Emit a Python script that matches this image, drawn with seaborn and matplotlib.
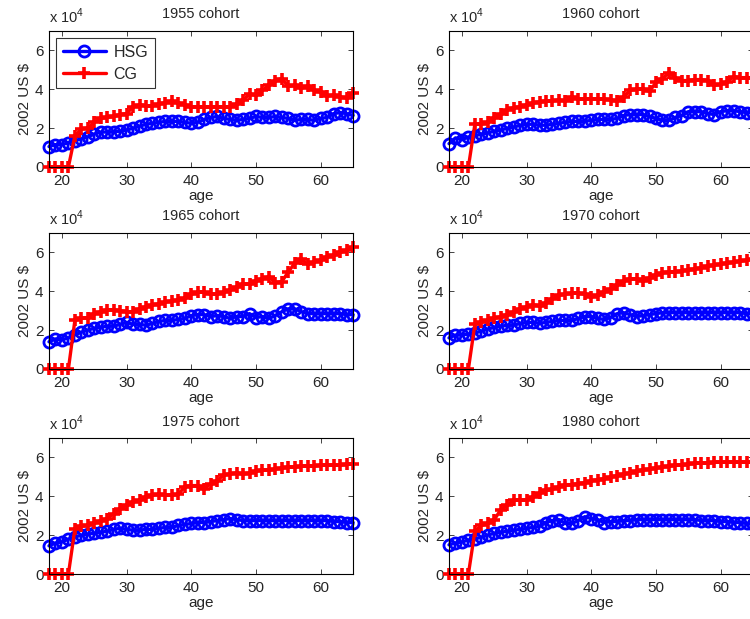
import numpy as np
import pandas as pd
import matplotlib
matplotlib.use("Agg")
import matplotlib.pyplot as plt
import seaborn as sns

sns.set_style("ticks")
plt.rcParams['font.family'] = ['Liberation Sans', 'DejaVu Sans']
plt.rcParams['mathtext.fontset'] = 'custom'
plt.rcParams['mathtext.rm'] = 'Liberation Sans'
plt.rcParams['xtick.direction'] = 'in'
plt.rcParams['ytick.direction'] = 'in'

ages = list(range(18, 66))
cohorts = ["1955", "1960", "1965", "1970", "1975", "1980"]

# earnings in units of 10^4 (2002 US $)
hsg_1955 = [1.05, 1.15, 1.15, 1.25, 1.35, 1.45, 1.55, 1.7, 1.8, 1.8, 1.8, 1.85, 1.9, 2.0, 2.1, 2.2,
            2.25, 2.3, 2.35, 2.35, 2.35, 2.3, 2.25, 2.3, 2.45, 2.55, 2.6, 2.5, 2.45, 2.4, 2.45, 2.5,
            2.6, 2.55, 2.55, 2.6, 2.55, 2.5, 2.4, 2.45, 2.45, 2.4, 2.5, 2.55, 2.75, 2.8, 2.75, 2.65]
cg_1955 = [0, 0, 0, 0, 1.6, 1.95, 2.0, 2.3, 2.5, 2.55, 2.6, 2.7, 2.75, 3.1, 3.2, 3.15,
           3.15, 3.25, 3.3, 3.4, 3.3, 3.2, 3.1, 3.1, 3.1, 3.1, 3.1, 3.1, 3.1, 3.25, 3.45, 3.75,
           3.7, 3.95, 4.2, 4.45, 4.55, 4.15, 4.2, 4.05, 4.15, 3.95, 3.85, 3.65, 3.7, 3.6, 3.55, 3.8]

hsg_1960 = [1.2, 1.5, 1.4, 1.55, 1.6, 1.7, 1.75, 1.85, 1.9, 2.0, 2.05, 2.15, 2.2, 2.2, 2.15, 2.15,
            2.2, 2.25, 2.3, 2.35, 2.35, 2.35, 2.4, 2.45, 2.45, 2.45, 2.5, 2.65, 2.7, 2.7, 2.7, 2.6,
            2.5, 2.4, 2.4, 2.55, 2.65, 2.85, 2.85, 2.85, 2.75, 2.7, 2.85, 2.9, 2.9, 2.85, 2.8, 2.8]
cg_1960 = [0, 0, 0, 0, 2.2, 2.2, 2.3, 2.5, 2.75, 2.95, 3.05, 3.1, 3.2, 3.3, 3.35, 3.4,
           3.4, 3.45, 3.4, 3.6, 3.5, 3.5, 3.5, 3.5, 3.5, 3.45, 3.4, 3.6, 3.95, 4.0, 4.0, 3.9,
           4.35, 4.55, 4.85, 4.6, 4.45, 4.45, 4.5, 4.5, 4.45, 4.2, 4.25, 4.4, 4.65, 4.6, 4.6, 4.6]

hsg_1965 = [1.4, 1.55, 1.5, 1.6, 1.75, 1.9, 2.0, 2.1, 2.15, 2.2, 2.2, 2.3, 2.4, 2.3, 2.3, 2.25,
            2.35, 2.45, 2.5, 2.5, 2.55, 2.6, 2.75, 2.8, 2.8, 2.7, 2.75, 2.7, 2.6, 2.7, 2.7, 2.85,
            2.65, 2.7, 2.6, 2.75, 2.95, 3.1, 3.1, 2.95, 2.85, 2.85, 2.85, 2.85, 2.85, 2.85, 2.8, 2.8]
cg_1965 = [0, 0, 0, 0, 2.5, 2.6, 2.65, 2.85, 2.95, 3.05, 3.05, 3.0, 2.95, 2.95, 3.1, 3.2,
           3.3, 3.35, 3.45, 3.5, 3.55, 3.65, 3.85, 3.95, 3.95, 3.85, 3.85, 3.95, 4.05, 4.2, 4.35, 4.4,
           4.55, 4.65, 4.75, 4.45, 4.5, 5.0, 5.45, 5.65, 5.4, 5.5, 5.6, 5.75, 5.85, 6.0, 6.1, 6.3]

hsg_1970 = [1.6, 1.75, 1.75, 1.8, 1.85, 1.95, 2.05, 2.15, 2.2, 2.25, 2.25, 2.35, 2.4, 2.4, 2.35, 2.4,
            2.45, 2.5, 2.5, 2.5, 2.6, 2.7, 2.7, 2.6, 2.55, 2.65, 2.85, 2.9, 2.8, 2.7, 2.75, 2.8,
            2.85, 2.9, 2.9, 2.9, 2.9, 2.9, 2.9, 2.9, 2.9, 2.9, 2.9, 2.9, 2.9, 2.9, 2.85, 2.85]
cg_1970 = [0, 0, 0, 0, 2.3, 2.4, 2.5, 2.6, 2.7, 2.8, 2.95, 3.1, 3.2, 3.3, 3.25, 3.4,
           3.6, 3.8, 3.85, 3.9, 3.9, 3.85, 3.7, 3.8, 3.95, 4.1, 4.3, 4.55, 4.65, 4.65, 4.55, 4.7,
           4.85, 4.95, 5.0, 5.0, 5.05, 5.1, 5.15, 5.2, 5.3, 5.35, 5.4, 5.45, 5.5, 5.55, 5.6, 5.65]

hsg_1975 = [1.45, 1.6, 1.65, 1.8, 1.9, 2.0, 2.05, 2.1, 2.15, 2.2, 2.3, 2.35, 2.3, 2.25, 2.25, 2.3,
            2.3, 2.35, 2.4, 2.4, 2.5, 2.55, 2.6, 2.65, 2.65, 2.7, 2.75, 2.8, 2.85, 2.8, 2.75, 2.75,
            2.75, 2.75, 2.75, 2.75, 2.75, 2.75, 2.75, 2.75, 2.75, 2.75, 2.75, 2.75, 2.7, 2.7, 2.65, 2.65]
cg_1975 = [0, 0, 0, 0, 2.3, 2.45, 2.5, 2.6, 2.75, 2.85, 3.1, 3.35, 3.55, 3.7, 3.8, 3.95,
           4.05, 4.1, 4.05, 4.05, 4.1, 4.5, 4.55, 4.55, 4.4, 4.65, 4.8, 5.1, 5.15, 5.2, 5.15, 5.2,
           5.3, 5.35, 5.35, 5.4, 5.45, 5.5, 5.5, 5.55, 5.55, 5.55, 5.6, 5.6, 5.6, 5.6, 5.65, 5.65]

hsg_1980 = [1.5, 1.6, 1.65, 1.75, 1.8, 1.9, 2.0, 2.1, 2.15, 2.2, 2.25, 2.3, 2.35, 2.4, 2.45, 2.65,
            2.75, 2.8, 2.6, 2.6, 2.75, 2.95, 2.85, 2.8, 2.65, 2.7, 2.7, 2.75, 2.75, 2.8, 2.8, 2.8,
            2.8, 2.8, 2.8, 2.8, 2.8, 2.8, 2.8, 2.75, 2.75, 2.75, 2.7, 2.7, 2.65, 2.65, 2.6, 2.55]
cg_1980 = [0, 0, 0, 0, 2.2, 2.5, 2.6, 2.8, 3.3, 3.55, 3.8, 3.8, 3.8, 3.95, 4.15, 4.3,
           4.35, 4.5, 4.6, 4.6, 4.65, 4.7, 4.8, 4.85, 4.9, 5.0, 5.05, 5.15, 5.2, 5.3, 5.35, 5.4,
           5.45, 5.5, 5.55, 5.6, 5.6, 5.65, 5.7, 5.7, 5.7, 5.75, 5.75, 5.75, 5.75, 5.75, 5.75, 5.75]

hsg = [hsg_1955, hsg_1960, hsg_1965, hsg_1970, hsg_1975, hsg_1980]
cg = [cg_1955, cg_1960, cg_1965, cg_1970, cg_1975, cg_1980]

fig = plt.figure(figsize=(7.5, 6.19), dpi=100)
W, H = 750, 619
col_x = [49, 449]
row_top = [31, 233, 438]
ax_w, ax_h = 304, 136

for i, cohort in enumerate(cohorts):
    r, c = divmod(i, 2)
    ax = fig.add_axes([col_x[c] / W, (H - row_top[r] - ax_h) / H, ax_w / W, ax_h / H])
    df = pd.DataFrame({"age": ages, "HSG": hsg[i], "CG": cg[i]})
    sns.lineplot(data=df, x="age", y="HSG", ax=ax, color="#0000ff", lw=2.4,
                 marker="o", ms=8, mfc="none", mec="#0000ff", mew=2.0, label="HSG",
                 clip_on=False, zorder=3)
    sns.lineplot(data=df, x="age", y="CG", ax=ax, color="#ff0000", lw=2.4,
                 marker="+", ms=8.5, mec="#ff0000", mew=2.6, label="CG",
                 clip_on=False, zorder=4)
    ax.set_xlim(18, 65)
    ax.set_ylim(0, 7)
    ax.set_xticks([20, 30, 40, 50, 60])
    ax.set_yticks([0, 2, 4, 6])
    ax.tick_params(labelsize=11, top=True, right=True, length=3.5, width=0.6)
    ax.tick_params(axis="x", pad=5)
    ax.tick_params(axis="y", pad=4)
    for s in ax.spines.values():
        s.set_linewidth(0.8)
        s.set_color("black")
        s.set_zorder(5)
    ax.set_xlabel("age", fontsize=11, labelpad=1)
    ax.set_ylabel(r"2002 US \$", fontsize=11, labelpad=2)
    ax.set_title(f"{cohort} cohort", fontsize=10.5, pad=9)
    ax.text(0.0, 1.035, r"x 10$^{4}$", transform=ax.transAxes, fontsize=10.5, va="bottom", ha="left")
    if i == 0:
        leg = ax.legend(loc="upper left", fontsize=11.5, frameon=True, fancybox=False,
                        borderaxespad=0.45, handlelength=2.7, borderpad=0.4, labelspacing=0.45,
                        handletextpad=0.5)
        leg.get_frame().set_edgecolor("black")
        leg.get_frame().set_linewidth(0.8)
    else:
        ax.get_legend().remove()

fig.savefig("out.png", dpi=100)
